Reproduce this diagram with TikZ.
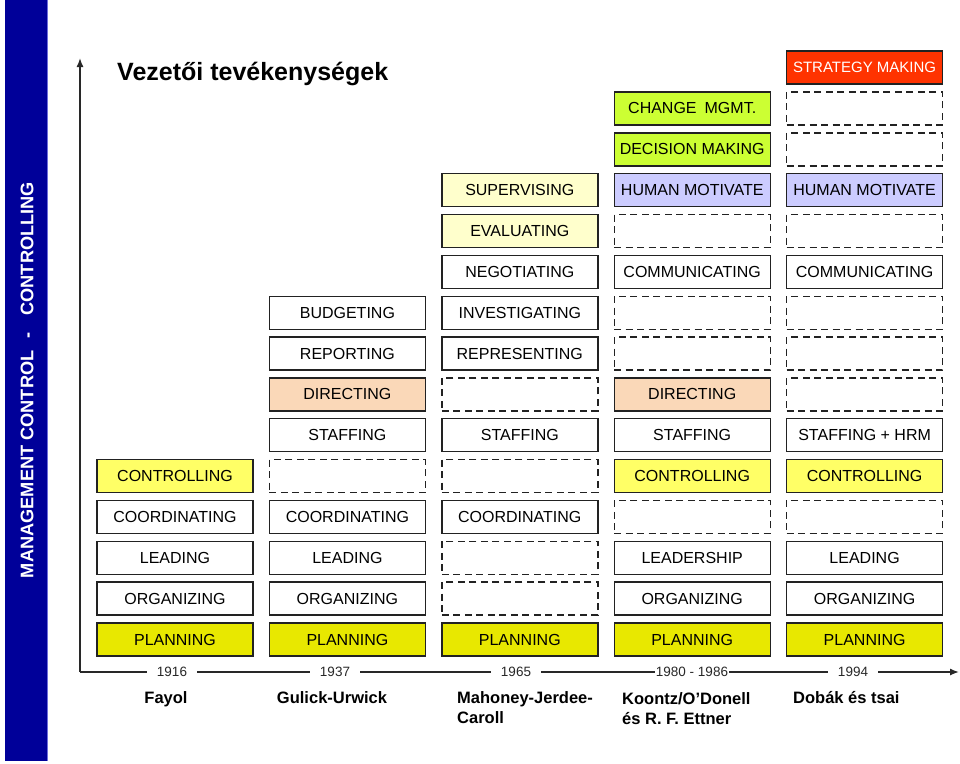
\documentclass[tikz,border=0pt]{standalone}
\usepackage{fontspec}
\setmainfont{Liberation Sans}
\usetikzlibrary{arrows.meta}
\definecolor{navybar}{RGB}{0,0,153}
\definecolor{baredge}{RGB}{110,110,220}
\definecolor{boxline}{RGB}{34,34,34}
\definecolor{planyellow}{RGB}{232,232,0}
\definecolor{ctrlyellow}{RGB}{255,255,102}
\definecolor{peach}{RGB}{250,216,184}
\definecolor{cream}{RGB}{255,255,204}
\definecolor{lavender}{RGB}{204,204,255}
\definecolor{lime}{RGB}{204,255,51}
\definecolor{redorange}{RGB}{255,51,0}
\definecolor{axisgray}{RGB}{40,40,40}
\tikzset{
  box/.style={draw=boxline, line width=1.4pt, minimum width=156pt, minimum height=33pt,
    inner sep=0pt, font=\fontsize{16}{18}\selectfont, text=black},
  dbox/.style={draw=boxline, line width=1.4pt, dash pattern=on 7pt off 4.5pt,
    minimum width=156pt, minimum height=33pt, inner sep=0pt},
  yearlbl/.style={fill=white, inner xsep=10pt, inner ysep=2pt, font=\fontsize{13.5}{15}\selectfont, text=axisgray},
  authorlbl/.style={font=\fontsize{16.5}{20}\selectfont\bfseries, inner sep=0pt, align=left}
}
\begin{document}
\begin{tikzpicture}[x=1pt,y=-1pt]
\useasboundingbox (0,0) rectangle (960,763);
% left bar
\fill[navybar] (5,0) rectangle (47,761);
\draw[baredge] (47,0) -- (47,761);
\node[rotate=90, text=white, font=\fontsize{18.2}{20}\selectfont\bfseries, inner sep=0pt] (bar) at (27,380)
  {MANAGEMENT CONTROL\hspace{12pt}-\hspace{17pt}CONTROLLING};
% title
\node[anchor=base west, inner sep=0pt, font=\fontsize{25}{28}\selectfont\bfseries] (title) at (117,80) {Vezetői tevékenységek};
% axes
\coordinate (origin) at (80,672);
\coordinate (ytop) at (80,58);
\coordinate (xend) at (959,672);
\draw[axisgray, line width=1.4pt, -{Latex[length=9pt,width=7pt]}] (origin) -- (ytop);
\draw[axisgray, line width=1.4pt, -{Latex[length=9pt,width=7pt]}] (origin) -- (xend);
\node[yearlbl] (y1916) at (172,672) {1916};
\node[yearlbl] (y1937) at (335,672) {1937};
\node[yearlbl] (y1965) at (516,672) {1965};
\node[yearlbl, inner xsep=0.5pt] (y1980) at (692,672) {1980 - 1986};
\node[yearlbl] (y1994) at (853,672) {1994};
% authors
\node[authorlbl, anchor=base] (fayol) at (166,703) {Fayol};
\node[authorlbl, anchor=base] (gulick) at (332,703) {Gulick-Urwick};
\node[authorlbl, anchor=base west] (mahoney) at (457,723) {Mahoney-Jerdee-\\Caroll};
\node[authorlbl, anchor=base west] (koontz) at (622,724) {Koontz/O’Donell\\és R. F. Ettner};
\node[authorlbl, anchor=base west] (dobak) at (793,703) {Dobák és tsai};
% column 1 (Fayol)
\node[box, fill=planyellow] (c1r0) at (175,639.5) {PLANNING};
\node[box, fill=white] (c1r1) at (175,598.65) {ORGANIZING};
\node[box, fill=white] (c1r2) at (175,557.8) {LEADING};
\node[box, fill=white] (c1r3) at (175,516.95) {COORDINATING};
\node[box, fill=ctrlyellow] (c1r4) at (175,476.1) {CONTROLLING};
% column 2 (Gulick-Urwick)
\node[box, fill=planyellow] (c2r0) at (347.4,639.5) {PLANNING};
\node[box, fill=white] (c2r1) at (347.4,598.65) {ORGANIZING};
\node[box, fill=white] (c2r2) at (347.4,557.8) {LEADING};
\node[box, fill=white] (c2r3) at (347.4,516.95) {COORDINATING};
\node[dbox] (c2r4) at (347.4,476.1) {};
\node[box, fill=white] (c2r5) at (347.4,435.25) {STAFFING};
\node[box, fill=peach] (c2r6) at (347.4,394.4) {DIRECTING};
\node[box, fill=white] (c2r7) at (347.4,353.55) {REPORTING};
\node[box, fill=white] (c2r8) at (347.4,312.7) {BUDGETING};
% column 3 (Mahoney)
\node[box, fill=planyellow] (c3r0) at (519.8,639.5) {PLANNING};
\node[dbox] (c3r1) at (519.8,598.65) {};
\node[dbox] (c3r2) at (519.8,557.8) {};
\node[box, fill=white] (c3r3) at (519.8,516.95) {COORDINATING};
\node[dbox] (c3r4) at (519.8,476.1) {};
\node[box, fill=white] (c3r5) at (519.8,435.25) {STAFFING};
\node[dbox] (c3r6) at (519.8,394.4) {};
\node[box, fill=white] (c3r7) at (519.8,353.55) {REPRESENTING};
\node[box, fill=white] (c3r8) at (519.8,312.7) {INVESTIGATING};
\node[box, fill=white] (c3r9) at (519.8,271.85) {NEGOTIATING};
\node[box, fill=cream] (c3r10) at (519.8,231.0) {EVALUATING};
\node[box, fill=cream] (c3r11) at (519.8,190.15) {SUPERVISING};
% column 4 (Koontz)
\node[box, fill=planyellow] (c4r0) at (692.2,639.5) {PLANNING};
\node[box, fill=white] (c4r1) at (692.2,598.65) {ORGANIZING};
\node[box, fill=white] (c4r2) at (692.2,557.8) {LEADERSHIP};
\node[dbox] (c4r3) at (692.2,516.95) {};
\node[box, fill=ctrlyellow] (c4r4) at (692.2,476.1) {CONTROLLING};
\node[box, fill=white] (c4r5) at (692.2,435.25) {STAFFING};
\node[box, fill=peach] (c4r6) at (692.2,394.4) {DIRECTING};
\node[dbox] (c4r7) at (692.2,353.55) {};
\node[dbox] (c4r8) at (692.2,312.7) {};
\node[box, fill=white] (c4r9) at (692.2,271.85) {COMMUNICATING};
\node[dbox] (c4r10) at (692.2,231.0) {};
\node[box, fill=lavender] (c4r11) at (692.2,190.15) {HUMAN MOTIVATE};
\node[box, fill=lime] (c4r12) at (692.2,149.3) {DECISION MAKING};
\node[box, fill=lime] (c4r13) at (692.2,108.45) {CHANGE\hspace{8pt}MGMT.};
% column 5 (Dobák)
\node[box, fill=planyellow] (c5r0) at (864.6,639.5) {PLANNING};
\node[box, fill=white] (c5r1) at (864.6,598.65) {ORGANIZING};
\node[box, fill=white] (c5r2) at (864.6,557.8) {LEADING};
\node[dbox] (c5r3) at (864.6,516.95) {};
\node[box, fill=ctrlyellow] (c5r4) at (864.6,476.1) {CONTROLLING};
\node[box, fill=white] (c5r5) at (864.6,435.25) {STAFFING + HRM};
\node[dbox] (c5r6) at (864.6,394.4) {};
\node[dbox] (c5r7) at (864.6,353.55) {};
\node[dbox] (c5r8) at (864.6,312.7) {};
\node[box, fill=white] (c5r9) at (864.6,271.85) {COMMUNICATING};
\node[dbox] (c5r10) at (864.6,231.0) {};
\node[box, fill=lavender] (c5r11) at (864.6,190.15) {HUMAN MOTIVATE};
\node[dbox] (c5r12) at (864.6,149.3) {};
\node[dbox] (c5r13) at (864.6,108.45) {};
\node[box, fill=redorange, text=white, font=\fontsize{15}{17}\selectfont] (c5r14) at (864.6,67.6) {STRATEGY MAKING};
\end{tikzpicture}
\end{document}
